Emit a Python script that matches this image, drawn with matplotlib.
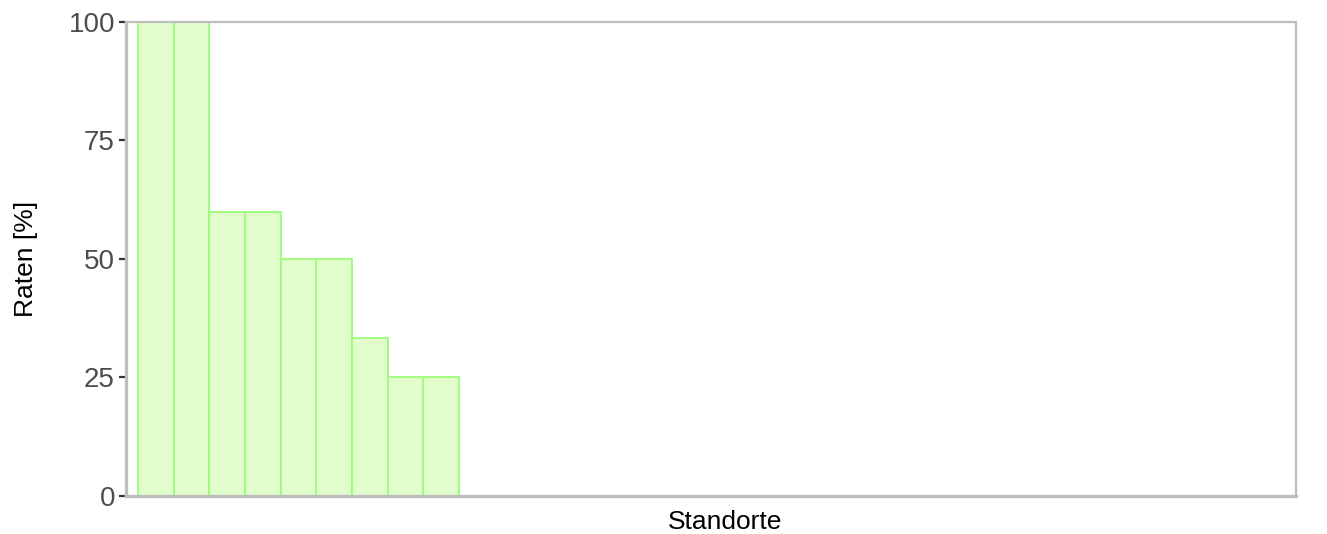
import numpy as np
import matplotlib.pyplot as plt

plt.rcParams['font.family'] = ['Liberation Sans', 'DejaVu Sans']

# Raten je Standort (absteigend sortiert)
standorte = ["S1", "S2", "S3", "S4", "S5", "S6", "S7", "S8", "S9"]
raten = [100, 100, 60, 60, 50, 50, 33.3, 25, 25]
y_ticks = [0, 25, 50, 75, 100]


def plot_raten(filename="out.png"):
    fig = plt.figure(figsize=(13.27, 5.34), dpi=100)
    ax = fig.add_axes([0.095, 0.0712, 0.8816, 0.8876])

    x = np.arange(len(standorte))
    ax.bar(x, raten, width=1.0, align="edge", color="#e2fdcc",
           edgecolor="#9cfc78", linewidth=1.3)

    ax.set_xlim(-0.336, 32.47)
    ax.set_ylim(0, 100)
    ax.set_xticks([])
    ax.set_yticks(y_ticks)
    ax.set_yticklabels([str(t) for t in y_ticks])

    for side in ["top", "right"]:
        ax.spines[side].set_color("#bebebe")
        ax.spines[side].set_linewidth(1.6)
    for side in ["left", "bottom"]:
        ax.spines[side].set_color("#bebebe")
        ax.spines[side].set_linewidth(2.4)

    ax.tick_params(axis="y", length=5, width=1.6, color="#333333",
                   labelcolor="#4d4d4d", labelsize=20, pad=3)

    ax.set_ylabel("Raten [%]", fontsize=19, color="black")
    ax.yaxis.set_label_coords(-0.0855, 0.5, transform=ax.transAxes)
    ax.yaxis.label.set_va("center")
    ax.set_xlabel("Standorte", fontsize=19, color="black")
    ax.xaxis.set_label_coords(0.512, -0.03, transform=ax.transAxes)
    ax.xaxis.label.set_va("top")

    fig.savefig(filename, dpi=100)
    plt.close(fig)


if __name__ == "__main__":
    plot_raten()
